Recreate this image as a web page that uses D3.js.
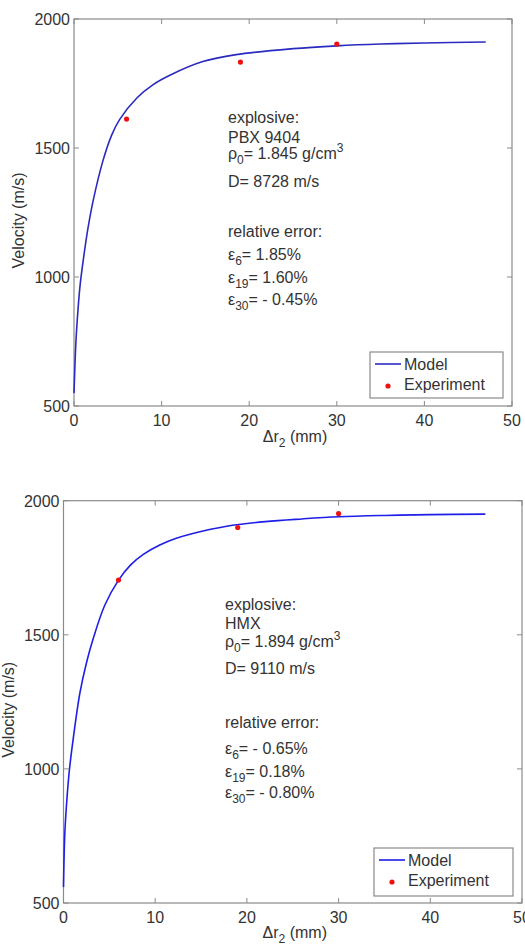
<!DOCTYPE html>
<html>
<head>
<meta charset="utf-8">
<script src="https://cdn.jsdelivr.net/npm/d3@7"></script>
<style>
  body { margin: 0; background: #fff; }
  text { font-family: "Liberation Sans", Arial, sans-serif; fill: #333; }
</style>
</head>
<body>
<svg id="chart" width="525" height="946"></svg>
<script>
// tick labels
const xTicks = [0, 10, 20, 30, 40, 50];
const yTicks = [500, 1000, 1500, 2000];

// PBX 9404 (top panel)
const pbxModelX = [0, 0.1, 0.23, 0.45, 0.68, 1.06, 1.6, 2.2, 3.3, 4.3, 5.2, 7.2, 9, 11, 14.7, 18.5, 25, 30, 35, 40, 47];
const pbxModelV = [550, 650, 756, 870, 963, 1066, 1190, 1298, 1450, 1550, 1610, 1695, 1745, 1783, 1835, 1862, 1885, 1896, 1903, 1907, 1911];
const pbxExpX = [6, 19, 30];
const pbxExpV = [1612, 1833, 1903];
const pbxNotes = [
  [["explosive:"]],
  [["PBX 9404"]],
  [["ρ"], ["0", "sub"], ["= 1.845 g/cm"], ["3", "sup"]],
  [["D= 8728 m/s"]],
  [["relative error:"]],
  [["ε"], ["6", "sub"], ["= 1.85%"]],
  [["ε"], ["19", "sub"], ["= 1.60%"]],
  [["ε"], ["30", "sub"], ["= - 0.45%"]]
];

// HMX (bottom panel)
const hmxModelX = [0, 0.05, 0.16, 0.4, 0.64, 1.07, 1.8, 2.5, 3.25, 4.5, 6, 7.3, 8.7, 10.5, 12.3, 14.1, 17.8, 22, 26, 30, 35, 40, 46];
const hmxModelV = [560, 650, 772, 900, 995, 1115, 1285, 1395, 1487, 1610, 1704, 1760, 1800, 1835, 1860, 1878, 1905, 1922, 1932, 1940, 1945, 1948, 1950];
const hmxExpX = [6, 19, 30];
const hmxExpV = [1704, 1900, 1952];
const hmxNotes = [
  [["explosive:"]],
  [["HMX"]],
  [["ρ"], ["0", "sub"], ["= 1.894 g/cm"], ["3", "sup"]],
  [["D= 9110 m/s"]],
  [["relative error:"]],
  [["ε"], ["6", "sub"], ["= - 0.65%"]],
  [["ε"], ["19", "sub"], ["= 0.18%"]],
  [["ε"], ["30", "sub"], ["= - 0.80%"]]
];

const legendLabels = ["Model", "Experiment"];

const svg = d3.select("#chart");

function drawPanel(p) {
  const x = d3.scaleLinear().domain([0, 50]).range([p.left, p.right]);
  const y = d3.scaleLinear().domain([500, 2000]).range([p.bottom, p.top]);
  const g = svg.append("g");
  const axisColor = "#8a8a8a";

  // box
  g.append("rect")
    .attr("x", p.left).attr("y", p.top)
    .attr("width", p.right - p.left).attr("height", p.bottom - p.top)
    .attr("fill", "none").attr("stroke", axisColor).attr("stroke-width", 1.2);

  // inward ticks on all four sides
  const tl = 5;
  xTicks.forEach(t => {
    g.append("line").attr("x1", x(t)).attr("x2", x(t)).attr("y1", p.bottom).attr("y2", p.bottom - tl)
      .attr("stroke", axisColor);
    g.append("line").attr("x1", x(t)).attr("x2", x(t)).attr("y1", p.top).attr("y2", p.top + tl)
      .attr("stroke", axisColor);
    g.append("text").attr("x", x(t)).attr("y", p.bottom + 20)
      .attr("text-anchor", "middle").style("font-size", "16px").text(t);
  });
  yTicks.forEach(t => {
    g.append("line").attr("x1", p.left).attr("x2", p.left + tl).attr("y1", y(t)).attr("y2", y(t))
      .attr("stroke", axisColor);
    g.append("line").attr("x1", p.right).attr("x2", p.right - tl).attr("y1", y(t)).attr("y2", y(t))
      .attr("stroke", axisColor);
    g.append("text").attr("x", p.left - 4).attr("y", y(t) + 6)
      .attr("text-anchor", "end").style("font-size", "16px").text(t);
  });

  // axis titles
  g.append("text")
    .attr("transform", `translate(${p.ylabX},${(p.top + p.bottom) / 2 + 8}) rotate(-90)`)
    .attr("text-anchor", "middle").style("font-size", "16px").text("Velocity (m/s)");
  const xl = g.append("text").attr("x", (p.left + p.right) / 2 + 2).attr("y", p.xlabY)
    .attr("text-anchor", "middle").style("font-size", "16px");
  xl.append("tspan").text("Δr");
  xl.append("tspan").attr("dy", 5).style("font-size", "12px").text("2");
  xl.append("tspan").attr("dy", -5).text(" (mm)");

  // model curve
  const line = d3.line().x(d => x(d[0])).y(d => y(d[1])).curve(d3.curveCatmullRom.alpha(0.5));
  g.append("path")
    .datum(p.modelX.map((v, i) => [v, p.modelV[i]]))
    .attr("d", line).attr("fill", "none")
    .attr("stroke", p.lineColor).attr("stroke-width", 1.6);

  // experiment points
  g.selectAll("circle.exp")
    .data(p.expX.map((v, i) => [v, p.expV[i]]))
    .join("circle").attr("class", "exp")
    .attr("cx", d => x(d[0])).attr("cy", d => y(d[1])).attr("r", 2.6)
    .attr("fill", "#ee1111");

  // annotations
  p.notes.forEach((parts, i) => {
    const t = g.append("text").attr("x", p.noteX).attr("y", p.noteY[i]).style("font-size", "16px");
    let shift = 0;
    parts.forEach(([s, kind]) => {
      const ts = t.append("tspan").text(s);
      let target = 0;
      if (kind === "sub") target = 5;
      if (kind === "sup") target = -7;
      ts.attr("dy", target - shift);
      shift = target;
      if (kind) ts.style("font-size", "12px");
    });
  });

  // legend
  const L = p.legend;
  g.append("rect").attr("x", L.x).attr("y", L.y).attr("width", L.w).attr("height", L.h)
    .attr("fill", "#fff").attr("stroke", axisColor).attr("stroke-width", 1.2);
  g.append("line").attr("x1", L.x + 5).attr("x2", L.x + 31).attr("y1", L.y + 12).attr("y2", L.y + 12)
    .attr("stroke", p.lineColor).attr("stroke-width", 1.6);
  g.append("circle").attr("cx", L.x + 18).attr("cy", L.y + 34).attr("r", 2.6).attr("fill", "#ee1111");
  legendLabels.forEach((s, i) => {
    g.append("text").attr("x", L.x + 34).attr("y", L.y + 18 + i * 20)
      .style("font-size", "16px").text(s);
  });
}

drawPanel({
  left: 74, right: 512, top: 19, bottom: 406,
  ylabX: 24, xlabY: 442,
  modelX: pbxModelX, modelV: pbxModelV, expX: pbxExpX, expV: pbxExpV,
  lineColor: "#2a2ac0",
  notes: pbxNotes, noteX: 228, noteY: [123, 143, 159, 187, 237, 260, 283, 305],
  legend: { x: 370, y: 352, w: 133, h: 46 }
});

drawPanel({
  left: 63.5, right: 522, top: 500.7, bottom: 903,
  ylabX: 14, xlabY: 938,
  modelX: hmxModelX, modelV: hmxModelV, expX: hmxExpX, expV: hmxExpV,
  lineColor: "#1e1ee8",
  notes: hmxNotes, noteX: 225, noteY: [610, 629, 647, 674, 728, 754, 777, 798],
  legend: { x: 374, y: 848, w: 139, h: 48 }
});
</script>
</body>
</html>
